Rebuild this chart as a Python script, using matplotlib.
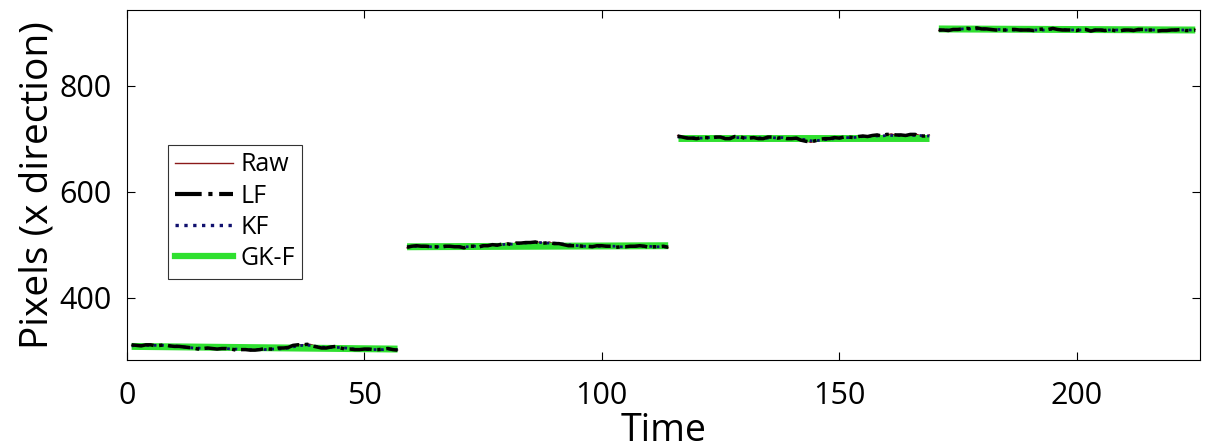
import numpy as np
import matplotlib
matplotlib.use("Agg")
import matplotlib.pyplot as plt
from matplotlib.lines import Line2D

plt.rcParams["font.family"] = ["Open Sans", "DejaVu Sans"]

# time ranges of the four segments
seg_t = [(1, 57), (59, 114), (116, 169), (171, 225)]

raw = [
    [310, 311, 309, 310, 312, 310, 309, 311, 310, 308,
     309, 307, 305, 306, 304, 303, 304, 305, 304, 303,
     305, 304, 302, 301, 303, 300, 302, 301, 303, 304,
     302, 305, 306, 304, 309, 312, 310, 313, 311, 307,
     306, 304, 306, 309, 306, 304, 302, 303, 301, 302,
     304, 303, 301, 302, 305, 303, 301],
    [494, 497, 499, 496, 498, 495, 497, 494, 496, 498,
     495, 497, 493, 496, 498, 494, 499, 497, 501, 498,
     500, 503, 499, 504, 502, 505, 503, 506, 504, 502,
     505, 501, 503, 500, 499, 497, 499, 496, 498, 495,
     497, 499, 496, 498, 494, 497, 495, 498, 496, 499,
     496, 494, 497, 495, 498, 494],
    [706, 703, 700, 702, 699, 701, 703, 700, 702, 704,
     701, 699, 703, 705, 702, 700, 703, 701, 699, 702,
     704, 700, 703, 701, 699, 702, 698, 696, 693, 695,
     698, 701, 699, 703, 700, 702, 704, 701, 703, 706,
     703, 705, 708, 704, 707, 709, 706, 708, 705, 707,
     709, 706, 704, 707],
    [904, 906, 903, 907, 905, 908, 909, 906, 910, 907,
     908, 905, 906, 904, 906, 905, 907, 904, 905, 906,
     903, 906, 908, 905, 909, 907, 905, 904, 906, 903,
     905, 907, 902, 904, 906, 903, 907, 905, 902, 904,
     906, 903, 905, 907, 904, 906, 902, 905, 903, 906,
     904, 907, 905, 903, 906],
]

lf = [
    [311, 310, 309, 311, 311, 309, 310, 311, 309, 308,
     308, 307, 306, 305, 303, 304, 305, 304, 303, 304,
     304, 303, 301, 302, 302, 301, 301, 302, 304, 303,
     303, 305, 305, 306, 310, 311, 311, 312, 309, 307,
     305, 305, 307, 308, 305, 303, 303, 302, 302, 303,
     303, 302, 302, 303, 304, 302, 301],
    [495, 497, 498, 497, 497, 496, 496, 495, 497, 497,
     496, 496, 494, 497, 497, 495, 498, 498, 500, 499,
     501, 502, 500, 503, 503, 504, 504, 505, 503, 503,
     504, 502, 502, 500, 498, 498, 498, 497, 497, 496,
     498, 498, 497, 497, 495, 496, 496, 497, 497, 498,
     497, 495, 496, 496, 497, 495],
    [705, 703, 701, 701, 700, 702, 702, 701, 703, 703,
     700, 700, 704, 704, 701, 701, 702, 700, 700, 703,
     703, 701, 702, 700, 700, 701, 697, 695, 694, 696,
     699, 700, 700, 702, 701, 703, 703, 702, 704, 705,
     704, 706, 707, 705, 708, 708, 707, 707, 706, 708,
     708, 705, 705, 706],
    [905, 905, 904, 906, 906, 907, 908, 907, 909, 907,
     907, 906, 905, 905, 905, 906, 906, 905, 905, 905,
     904, 906, 907, 906, 908, 906, 905, 905, 905, 904,
     906, 906, 903, 905, 905, 904, 906, 904, 903, 905,
     905, 904, 906, 906, 905, 905, 903, 904, 904, 905,
     905, 906, 904, 904, 905],
]

kf = [
    [309, 310, 310, 310, 310, 310, 310, 310, 309, 309,
     308, 307, 306, 305, 305, 304, 304, 304, 304, 304,
     304, 303, 303, 302, 302, 302, 302, 302, 302, 303,
     303, 303, 304, 305, 307, 309, 310, 310, 310, 308,
     307, 306, 306, 306, 306, 305, 304, 303, 302, 302,
     302, 302, 302, 302, 303, 302, 302],
    [496, 496, 497, 497, 497, 496, 496, 496, 496, 497,
     496, 496, 496, 496, 497, 497, 497, 498, 499, 499,
     500, 501, 501, 502, 502, 503, 504, 504, 504, 503,
     503, 503, 502, 501, 500, 499, 498, 497, 497, 497,
     497, 497, 497, 497, 497, 496, 496, 497, 497, 497,
     497, 497, 496, 496, 496, 496],
    [703, 703, 702, 702, 701, 701, 702, 702, 702, 702,
     702, 701, 702, 702, 702, 701, 702, 702, 701, 701,
     702, 701, 702, 701, 700, 700, 699, 698, 696, 696,
     697, 698, 699, 700, 701, 702, 702, 702, 703, 704,
     704, 705, 705, 705, 706, 706, 706, 706, 706, 706,
     706, 706, 705, 705],
    [905, 905, 905, 906, 906, 907, 907, 907, 907, 907,
     907, 906, 906, 906, 905, 905, 905, 905, 905, 905,
     905, 905, 905, 906, 906, 906, 906, 905, 905, 905,
     905, 905, 905, 905, 905, 905, 905, 905, 905, 904,
     905, 905, 905, 905, 905, 905, 905, 904, 904, 905,
     905, 905, 905, 905, 905],
]

# GK-F: nearly flat fit per segment (start, end value)
gkf = [(308, 303), (496, 498), (702, 702), (907, 905)]

fig = plt.figure(figsize=(12.2, 4.48), dpi=100)
ax = fig.add_axes([0.104, 0.196, 0.8796, 0.782])

for i, (t0, t1) in enumerate(seg_t):
    t = np.arange(t0, t1 + 1)
    ax.plot(t, raw[i], color="#8b1a1a", lw=1.0, zorder=2)
    ax.plot([t0, t1], gkf[i], color="#2fe02f", lw=5, zorder=3,
            solid_capstyle="butt")
    ax.plot(t, kf[i], color="#10106e", lw=2.0, ls=":", zorder=4)
    ax.plot(t, lf[i], color="black", lw=2.5, ls="-.", zorder=5)

handles = [
    Line2D([], [], color="#8b1a1a", lw=1.0),
    Line2D([], [], color="black", lw=3, ls="-."),
    Line2D([], [], color="#10106e", lw=2.4, ls=":"),
    Line2D([], [], color="#2fe02f", lw=4.5),
]
leg = ax.legend(handles, ["Raw", "LF", "KF", "GK-F"], loc="lower left",
                bbox_to_anchor=(0.038, 0.233), fontsize=18, frameon=True,
                fancybox=False, edgecolor="black", handlelength=2.3,
                labelspacing=0.25, borderpad=0.3, handletextpad=0.3,
                borderaxespad=0)
leg.get_frame().set_linewidth(0.8)

ax.set_xlim(0, 226)
ax.set_ylim(282, 943)
ax.set_xticks([0, 50, 100, 150, 200])
ax.set_yticks([400, 600, 800])
ax.tick_params(direction="in", top=True, right=True, labelsize=22, length=6)
ax.tick_params(axis="x", pad=15)
ax.tick_params(axis="y", pad=11)
ax.set_xlabel("Time", fontsize=27, labelpad=1)
ax.set_ylabel("Pixels (x direction)", fontsize=28, labelpad=2)
for s in ax.spines.values():
    s.set_linewidth(0.8)

fig.savefig("out.png", dpi=100)
